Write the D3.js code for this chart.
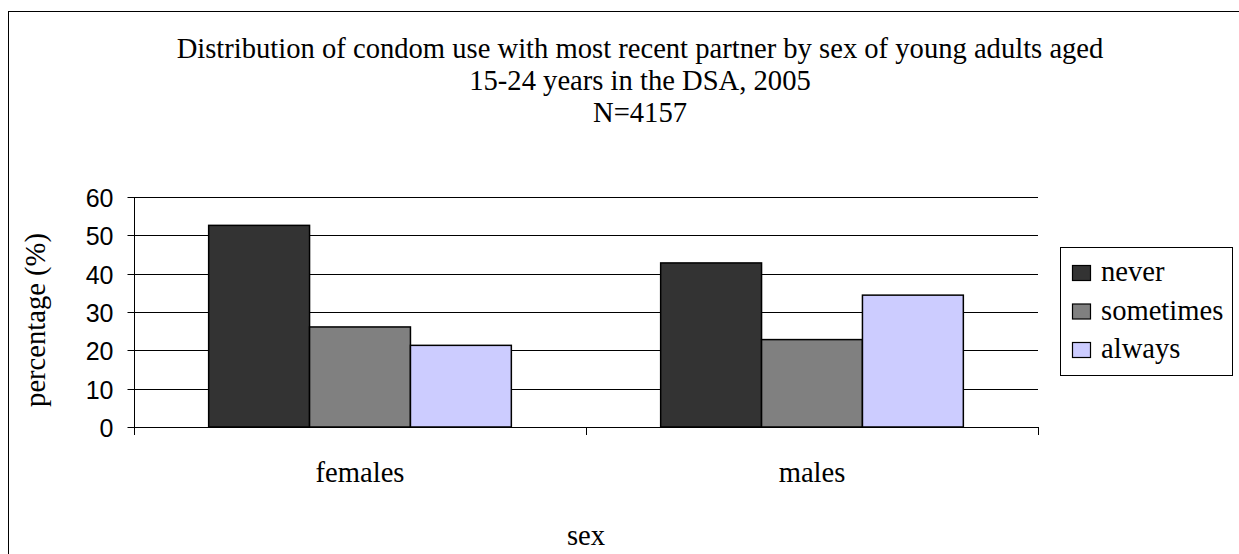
<!DOCTYPE html>
<html><head><meta charset="utf-8">
<script src="https://cdn.jsdelivr.net/npm/d3@7"></script>
<style>body{margin:0;background:#fff}svg{display:block}</style>
</head><body>
<script>
const categories = ["females", "males"];
const seriesNames = ["never", "sometimes", "always"];
const never = [52.6, 42.8];
const sometimes = [26.1, 22.8];
const always = [21.3, 34.4];
const yTicks = [0, 10, 20, 30, 40, 50, 60];
const titleLines = ["Distribution of condom use with most recent partner by sex of young adults aged", "15-24 years in the DSA, 2005", "N=4157"];
const colors = ["#333333", "#808080", "#CCCCFF"];

const W = 1239, H = 554;
const svg = d3.select("body").append("svg").attr("width", W).attr("height", H);
const serif = "'Liberation Serif','Times New Roman',serif";
const sans = "'Liberation Sans',Arial,sans-serif";
const FS = 28.6;

svg.append("rect").attr("x", 8.5).attr("y", 11.5).attr("width", 1300).attr("height", 600)
  .attr("fill", "#fff").attr("stroke", "#000").attr("stroke-width", 1);

const plot = {left: 134, right: 1038, top: 197, bottom: 427};
const x0 = d3.scaleBand().domain(categories).range([plot.left, plot.right]).paddingInner(0).paddingOuter(0);
const x1 = d3.scaleBand().domain(seriesNames).range([0, x0.bandwidth()]).paddingInner(0).paddingOuter(0.74);
const y = d3.scaleLinear().domain([0, 60]).range([plot.bottom, plot.top]);

// title
svg.append("g").selectAll("text").data(titleLines).join("text")
  .attr("x", 640).attr("y", (d, i) => 58 + i * 32)
  .attr("text-anchor", "middle").style("font-family", serif).style("font-size", FS + "px")
  .text(d => d);

// gridlines
const g = svg.append("g");
g.selectAll("line.grid").data(yTicks).join("line")
  .attr("x1", plot.left).attr("x2", plot.right)
  .attr("y1", d => Math.round(y(d)) + 0.5).attr("y2", d => Math.round(y(d)) + 0.5)
  .attr("stroke", "#000").attr("stroke-width", 1);

// y axis
const yAxis = d3.axisLeft(y).tickValues(yTicks).tickSize(7).tickPadding(14);
const ya = svg.append("g").attr("transform", `translate(${plot.left + 0.5},0)`).call(yAxis);
ya.select(".domain").attr("d", `M0,${plot.top}V${plot.bottom + 8}`).attr("stroke", "#000");
ya.selectAll(".tick line").attr("stroke", "#000");
ya.selectAll(".tick").attr("transform", d => `translate(0,${Math.round(y(d)) + 0.5})`);
ya.selectAll(".tick text").style("font-family", sans).style("font-size", "25px").attr("fill", "#000").attr("dy", "0.36em");

// x axis
const xa = svg.append("g").attr("transform", `translate(0,${plot.bottom + 0.5})`)
  .call(d3.axisBottom(x0).tickSize(0).tickPadding(34));
xa.select(".domain").remove();
xa.selectAll(".tick text").style("font-family", serif).style("font-size", FS + "px").attr("fill", "#000");
svg.append("g").selectAll("line").data([plot.left, (plot.left + plot.right) / 2, plot.right]).join("line")
  .attr("x1", d => Math.round(d) + 0.5).attr("x2", d => Math.round(d) + 0.5)
  .attr("y1", plot.bottom).attr("y2", plot.bottom + 8).attr("stroke", "#000");

// bars
const data = categories.map((c, i) => ({cat: c, vals: [never[i], sometimes[i], always[i]]}));
svg.append("g").selectAll("g").data(data).join("g")
  .attr("transform", d => `translate(${x0(d.cat)},0)`)
  .selectAll("rect").data(d => d.vals.map((v, j) => ({name: seriesNames[j], v, j}))).join("rect")
  .attr("x", d => x1(d.name)).attr("width", x1.bandwidth())
  .attr("y", d => y(d.v)).attr("height", d => y(0) - y(d.v))
  .attr("fill", d => colors[d.j]).attr("stroke", "#000").attr("stroke-width", 1.5);

// axis titles
svg.append("text").attr("transform", `translate(45,${(plot.top + plot.bottom) / 2 + 8}) rotate(-90)`)
  .attr("text-anchor", "middle").style("font-family", serif).style("font-size", FS + "px").text("percentage (%)");
svg.append("text").attr("x", (plot.left + plot.right) / 2).attr("y", 545)
  .attr("text-anchor", "middle").style("font-family", serif).style("font-size", FS + "px").text("sex");

// legend
const lg = svg.append("g");
lg.append("rect").attr("x", 1060.5).attr("y", 247.5).attr("width", 172).attr("height", 128)
  .attr("fill", "#fff").attr("stroke", "#000");
const rows = lg.selectAll("g").data(seriesNames).join("g")
  .attr("transform", (d, i) => `translate(1072,${273 + i * 38.5})`);
rows.append("rect").attr("x", 0.5).attr("y", -7.5).attr("width", 18).attr("height", 15)
  .attr("fill", (d, i) => colors[i]).attr("stroke", "#000").attr("stroke-width", 1.2);
rows.append("text").attr("x", 29).attr("y", 8).style("font-family", serif).style("font-size", FS + "px").text(d => d);
</script>
</body></html>
